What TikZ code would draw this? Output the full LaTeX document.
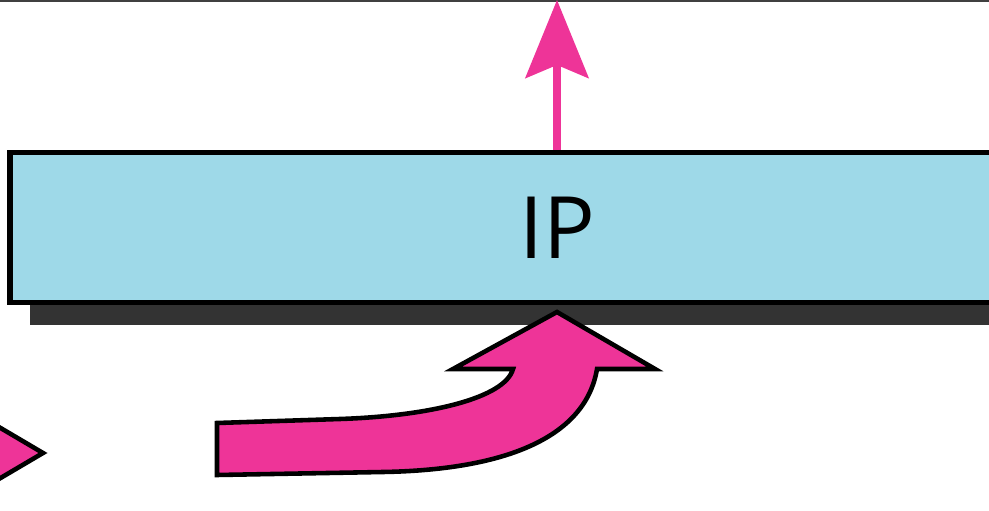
\documentclass[tikz,border=0pt]{standalone}
\usepackage{fontspec}
\setmainfont{Open Sans}
\usepackage{tikz}
\usetikzlibrary{arrows.meta, shadows}

\definecolor{ippink}{RGB}{238,52,152}
\definecolor{ipblue}{RGB}{158,217,232}

\tikzset{
  layerbox/.style={draw=black, line width=3.2pt, fill=ipblue,
    minimum width=21.88cm, minimum height=3.0cm, inner sep=0pt,
    drop shadow={shadow xshift=0.4cm, shadow yshift=-0.45cm, fill=black!80, opacity=1},
    font=\fontsize{49}{49}\selectfont},
  uparrow/.style={draw=ippink, line width=4pt,
    -{Stealth[length=1.56cm, width=1.26cm, inset=0.26cm]}},
  blockarrow/.style={fill=ippink, draw=black, line width=2.6pt, line join=miter}
}

\begin{document}
\begin{tikzpicture}[x=0.02cm, y=0.02cm]
	\useasboundingbox (0,0) rectangle (989,510);
	\clip (0,0) rectangle (989,510);

	% Top rule
	\draw[black!75, line width=1.6pt] (0,509) -- (989,509);

	% IP layer
	\node[layerbox] (ip) at (557,282.5) {IP};

	% Packet leaving upwards
	\coordinate (top) at (557,510);
	\draw[uparrow] (ip.north) -- (top);

	% Packet coming in from below
	\coordinate (tip) at (557,198);
	\draw[blockarrow] (217,87) -- (340,91)
		.. controls (430,94) and (505,112) .. (513,141)
		-- (453,141) -- (tip) -- (655,141) -- (597,141)
		.. controls (585,70) and (500,40) .. (383,38)
		-- (217,35) -- cycle;

	% Previous arrow head at the left edge
	\draw[blockarrow] (-30,100) -- (43,57) -- (-30,14) -- cycle;
\end{tikzpicture}
\end{document}
